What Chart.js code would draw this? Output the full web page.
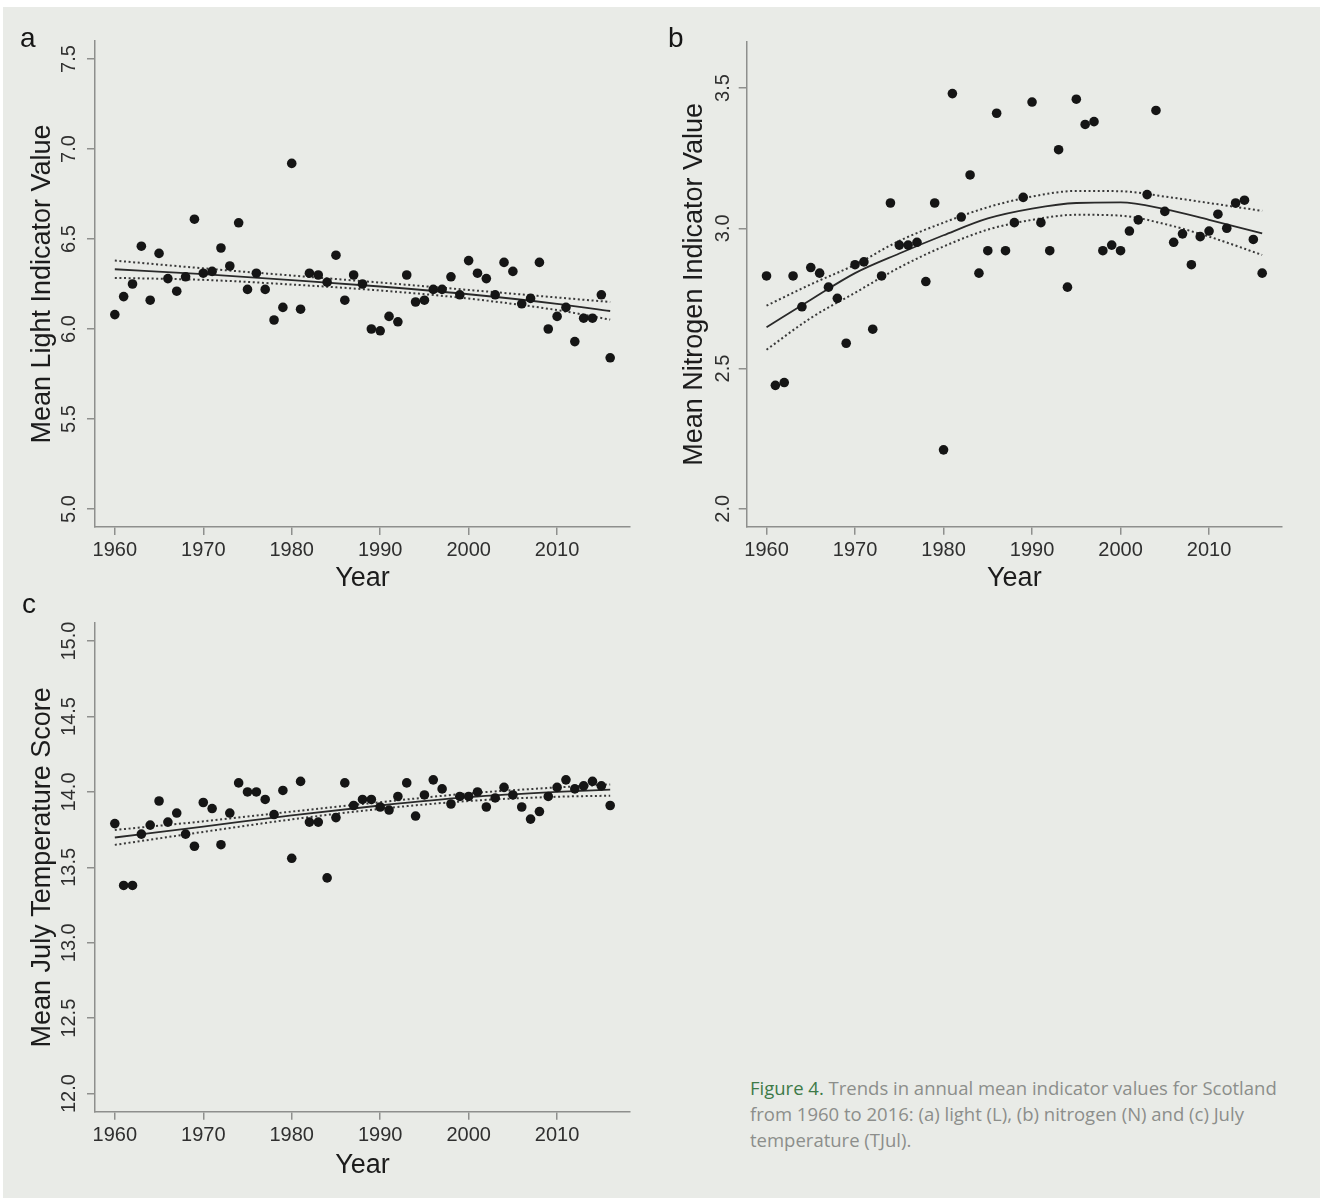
<!DOCTYPE html>
<html>
<head>
<meta charset="utf-8">
<script src="https://cdn.jsdelivr.net/npm/chart.js@4.4.1/dist/chart.umd.min.js"></script>
<style>
  html, body { margin: 0; padding: 0; background: #ffffff; width: 1320px; height: 1198px; overflow: hidden; }
  #page { position: absolute; left: 3px; top: 7px; right: 0; bottom: 0; background: #e9ebe7; }
  .box { position: absolute; }
  .panel-label { position: absolute; font-family: "Liberation Sans", Arial, sans-serif; font-size: 28px; color: #161616; line-height: 1; }
  #caption { position: absolute; left: 750px; top: 1075px; width: 570px; white-space: nowrap; font-family: "Open Sans", "Noto Sans", sans-serif; font-size: 18.5px; line-height: 26px; color: #8c8e8b; }
  #caption .fig { color: #3d7a48; }
</style>
</head>
<body>
<div id="page"></div>

<div class="box" style="left:0px; top:0px; width:660px; height:600px;"><canvas id="chartA" width="660" height="600"></canvas></div>
<div class="box" style="left:650px; top:0px; width:670px; height:600px;"><canvas id="chartB" width="670" height="600"></canvas></div>
<div class="box" style="left:0px; top:580px; width:660px; height:618px;"><canvas id="chartC" width="660" height="618"></canvas></div>

<div class="panel-label" style="left:20px; top:24px;">a</div>
<div class="panel-label" style="left:668px; top:24px;">b</div>
<div class="panel-label" style="left:22px; top:590px;">c</div>

<div id="caption"><span class="fig">Figure 4.</span> Trends in annual mean indicator values for Scotland<br>from 1960 to 2016: (a) light (L), (b) nitrogen (N) and (c) July<br>temperature (TJul).</div>

<script>
// years of the survey (x values of every point)
const years = [1960, 1961, 1962, 1963, 1964, 1965, 1966, 1967, 1968, 1969,
               1970, 1971, 1972, 1973, 1974, 1975, 1976, 1977, 1978, 1979,
               1980, 1981, 1982, 1983, 1984, 1985, 1986, 1987, 1988, 1989,
               1990, 1991, 1992, 1993, 1994, 1995, 1996, 1997, 1998, 1999,
               2000, 2001, 2002, 2003, 2004, 2005, 2006, 2007, 2008, 2009,
               2010, 2011, 2012, 2013, 2014, 2015, 2016];

// (a) mean light indicator value
const lightVals = [6.08, 6.18, 6.25, 6.46, 6.16, 6.42, 6.28, 6.21, 6.29, 6.61,
                   6.31, 6.32, 6.45, 6.35, 6.59, 6.22, 6.31, 6.22, 6.05, 6.12,
                   6.92, 6.11, 6.31, 6.30, 6.26, 6.41, 6.16, 6.30, 6.25, 6.00,
                   5.99, 6.07, 6.04, 6.30, 6.15, 6.16, 6.22, 6.22, 6.29, 6.19,
                   6.38, 6.31, 6.28, 6.19, 6.37, 6.32, 6.14, 6.17, 6.37, 6.00,
                   6.07, 6.12, 5.93, 6.06, 6.06, 6.19, 5.84];

// (b) mean nitrogen indicator value
const nitrogenVals = [2.83, 2.44, 2.45, 2.83, 2.72, 2.86, 2.84, 2.79, 2.75, 2.59,
                      2.87, 2.88, 2.64, 2.83, 3.09, 2.94, 2.94, 2.95, 2.81, 3.09,
                      2.21, 3.48, 3.04, 3.19, 2.84, 2.92, 3.41, 2.92, 3.02, 3.11,
                      3.45, 3.02, 2.92, 3.28, 2.79, 3.46, 3.37, 3.38, 2.92, 2.94,
                      2.92, 2.99, 3.03, 3.12, 3.42, 3.06, 2.95, 2.98, 2.87, 2.97,
                      2.99, 3.05, 3.00, 3.09, 3.10, 2.96, 2.84];

// (c) mean July temperature score
const tempVals = [13.79, 13.38, 13.38, 13.72, 13.78, 13.94, 13.80, 13.86, 13.72, 13.64,
                  13.93, 13.89, 13.65, 13.86, 14.06, 14.00, 14.00, 13.95, 13.85, 14.01,
                  13.56, 14.07, 13.80, 13.80, 13.43, 13.83, 14.06, 13.91, 13.95, 13.95,
                  13.90, 13.88, 13.97, 14.06, 13.84, 13.98, 14.08, 14.02, 13.92, 13.97,
                  13.97, 14.00, 13.90, 13.96, 14.03, 13.98, 13.90, 13.82, 13.87, 13.97,
                  14.03, 14.08, 14.02, 14.04, 14.07, 14.04, 13.91];

// fitted trend and confidence limits
const fitYearsA = [1960, 1970, 1980, 1990, 2000, 2010, 2016];
const lightFit   = [6.332, 6.305, 6.272, 6.236, 6.193, 6.140, 6.100];
const lightUpper = [6.380, 6.337, 6.297, 6.258, 6.217, 6.175, 6.150];
const lightLower = [6.284, 6.273, 6.247, 6.214, 6.169, 6.105, 6.052];

const fitYearsB = [1960, 1965, 1970, 1975, 1980, 1985, 1990, 1995, 2000, 2005, 2010, 2016];
const nitrogenFit   = [2.647, 2.745, 2.840, 2.910, 2.975, 3.035, 3.070, 3.090, 3.092, 3.068, 3.030, 2.982];
const nitrogenUpper = [2.724, 2.800, 2.870, 2.955, 3.020, 3.075, 3.113, 3.133, 3.132, 3.113, 3.090, 3.062];
const nitrogenLower = [2.567, 2.680, 2.770, 2.860, 2.935, 2.995, 3.030, 3.048, 3.045, 3.015, 2.970, 2.905];

const fitYearsC = [1960, 1970, 1980, 1990, 2000, 2010, 2016];
const tempFit   = [13.698, 13.770, 13.845, 13.910, 13.965, 14.000, 14.015];
const tempUpper = [13.748, 13.805, 13.870, 13.932, 13.990, 14.030, 14.050];
const tempLower = [13.649, 13.735, 13.818, 13.888, 13.940, 13.968, 13.975];

// tick labels
const xTicks = [1960, 1970, 1980, 1990, 2000, 2010];
const lightTicks = [5.0, 5.5, 6.0, 6.5, 7.0, 7.5];
const nitrogenTicks = [2.0, 2.5, 3.0, 3.5];
const tempTicks = [12.0, 12.5, 13.0, 13.5, 14.0, 14.5, 15.0];

const FONT = '"Liberation Sans", Arial, Helvetica, sans-serif';
const AXIS_GREY = '#8e8f8d';

function pairs(xs, ys) {
  return xs.map((x, i) => ({ x: x, y: ys[i] }));
}

function makePanel(id, cfg) {
  const lineBase = { showLine: true, pointRadius: 0, pointHoverRadius: 0, fill: false,
                     cubicInterpolationMode: 'monotone', borderCapStyle: 'butt' };
  new Chart(document.getElementById(id), {
    type: 'scatter',
    data: {
      datasets: [
        { label: 'points', data: pairs(years, cfg.values), pointRadius: 4.8,
          pointBackgroundColor: '#151515', pointBorderWidth: 0, order: 0 },
        Object.assign({ label: 'fit', data: pairs(cfg.fitYears, cfg.fit),
          borderColor: '#2a2a2a', borderWidth: 1.8, order: 1 }, lineBase),
        Object.assign({ label: 'upper', data: pairs(cfg.fitYears, cfg.upper),
          borderColor: '#3a3a3a', borderWidth: 2, borderDash: [2, 2.6], order: 2 }, lineBase),
        Object.assign({ label: 'lower', data: pairs(cfg.fitYears, cfg.lower),
          borderColor: '#3a3a3a', borderWidth: 2, borderDash: [2, 2.6], order: 3 }, lineBase)
      ]
    },
    options: {
      responsive: false,
      animation: false,
      devicePixelRatio: 1,
      layout: { padding: { top: cfg.padTop, right: cfg.padRight, left: 0, bottom: 0 } },
      plugins: { legend: { display: false }, tooltip: { enabled: false } },
      scales: {
        x: {
          type: 'linear', position: 'bottom',
          min: 1957.76, max: 2018.24,
          afterBuildTicks: s => { s.ticks = xTicks.map(v => ({ value: v })); },
          afterFit: s => { s.height = cfg.xHeight; },
          border: { display: true, color: AXIS_GREY, width: 1.5 },
          grid: { display: true, drawOnChartArea: false, drawTicks: true, tickLength: 8,
                  color: AXIS_GREY, lineWidth: 1.5 },
          ticks: { color: '#2f2f2f', padding: cfg.xTickPad, maxRotation: 0, autoSkip: false,
                   font: { family: FONT, size: 20, lineHeight: 1.2 },
                   callback: v => String(v) },
          title: { display: true, text: 'Year', color: '#1c1c1c',
                   font: { family: FONT, size: 27, lineHeight: 1.2 },
                   padding: { top: 0, bottom: cfg.xTitlePad } }
        },
        y: {
          type: 'linear', position: 'left',
          min: cfg.yMin, max: cfg.yMax,
          afterBuildTicks: s => { s.ticks = cfg.yTicks.map(v => ({ value: v })); },
          afterFit: s => { s.width = cfg.yWidth; },
          border: { display: true, color: AXIS_GREY, width: 1.5 },
          grid: { display: true, drawOnChartArea: false, drawTicks: true, tickLength: 8,
                  color: AXIS_GREY, lineWidth: 1.5 },
          ticks: { color: '#2f2f2f', padding: cfg.yTickPad, minRotation: 90, maxRotation: 90,
                   crossAlign: 'center', autoSkip: false,
                   font: { family: FONT, size: 20, lineHeight: 1.2 },
                   callback: v => v.toFixed(1) },
          title: { display: true, text: cfg.yTitle, color: '#1c1c1c',
                   font: { family: FONT, size: 27, lineHeight: 1.2 },
                   padding: { top: cfg.yTitlePad, bottom: 0 } }
        }
      }
    }
  });
}

makePanel('chartA', {
  values: lightVals, fitYears: fitYearsA, fit: lightFit, upper: lightUpper, lower: lightLower,
  yTicks: lightTicks, yMin: 4.9, yMax: 7.6, yTitle: 'Mean Light Indicator Value',
  padTop: 41, padRight: 30, yWidth: 95, xHeight: 73,
  yTickPad: 3.3, yTitlePad: 26.5, xTickPad: 3.5, xTitlePad: 5.5
});

makePanel('chartB', {
  values: nitrogenVals, fitYears: fitYearsB, fit: nitrogenFit, upper: nitrogenUpper, lower: nitrogenLower,
  yTicks: nitrogenTicks, yMin: 1.936, yMax: 3.664, yTitle: 'Mean Nitrogen Indicator Value',
  padTop: 42, padRight: 38, yWidth: 96.7, xHeight: 73.3,
  yTickPad: 1.7, yTitlePad: 28, xTickPad: 3.5, xTitlePad: 5.5
});

makePanel('chartC', {
  values: tempVals, fitYears: fitYearsC, fit: tempFit, upper: tempUpper, lower: tempLower,
  yTicks: tempTicks, yMin: 11.88, yMax: 15.12, yTitle: 'Mean July Temperature Score',
  padTop: 43, padRight: 30, yWidth: 95, xHeight: 86.3,
  yTickPad: -2.3, yTitlePad: 26.5, xTickPad: 3.8, xTitlePad: 16.5
});
</script>
</body>
</html>
